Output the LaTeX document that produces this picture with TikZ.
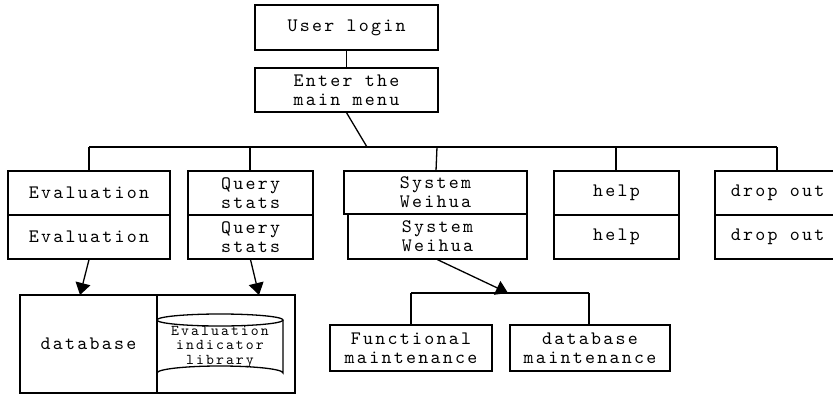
\documentclass[tikz,border=0pt]{standalone}
\usepackage{fontspec}
\usetikzlibrary{arrows.meta}
\newfontfamily\boxfont[LetterSpace=12]{lmmono10-regular.otf}
\newfontfamily\libfont[LetterSpace=14]{lmmono10-regular.otf}
\begin{document}
\begin{tikzpicture}[x=1pt,y=-1pt,line width=1.3pt,
  box/.style={draw,rectangle,inner sep=0pt,align=center,
    font=\boxfont\fontsize{19}{19}\selectfont},
  label/.style={inner sep=0pt,align=center,
    font=\libfont\fontsize{15}{14.5}\selectfont},
  link/.style={line width=1.3pt},
  arr/.style={line width=1.3pt,-{Triangle[length=12pt,width=15pt]}}]
\useasboundingbox (0,0) rectangle (833,394);
\clip (0,0) rectangle (833,394);

% top chain
\node[box,minimum width=183pt,minimum height=45pt] (login) at (346.5,27.5) {User login};
\node[box,minimum width=183pt,minimum height=44pt] (menu) at (346.5,90) {Enter the\\main menu};

% second level, each module drawn as two stacked cells
\node[box,minimum width=162pt,minimum height=44pt] (evalT) at (89,193) {Evaluation};
\node[box,minimum width=162pt,minimum height=44pt] (evalB) at (89,237) {Evaluation};
\node[box,minimum width=125pt,minimum height=44pt] (queryT) at (250.5,193) {Query\\stats};
\node[box,minimum width=125pt,minimum height=44pt] (queryB) at (250.5,237) {Query\\stats};
\node[box,minimum width=183pt,minimum height=43pt] (sysT) at (435.5,192.5) {System\\Weihua};
\node[box,minimum width=179pt,minimum height=45pt] (sysB) at (437.5,236.5) {System\\Weihua};
\node[box,minimum width=125pt,minimum height=44pt] (helpT) at (616.5,193) {help};
\node[box,minimum width=125pt,minimum height=44pt] (helpB) at (616.5,237) {help};
\node[box,minimum width=125pt,minimum height=44pt] (dropT) at (777.5,193) {drop out};
\node[box,minimum width=125pt,minimum height=44pt] (dropB) at (777.5,237) {drop out};

% storage
\node[box,minimum width=137pt,minimum height=98pt] (db) at (88.5,344) {database};
\node[box,minimum width=138pt,minimum height=98pt] (store) at (226,344) {};
\draw (220,320) ellipse [x radius=63, y radius=6];
\draw (157,320) -- (157,373) arc[start angle=180,end angle=360,x radius=63,y radius=7] -- (283,320);
\node[label] (lib) at (220,347) {Evaluation\\indicator\\library};

% maintenance sub-modules
\node[box,minimum width=162pt,minimum height=46pt] (func) at (411,348) {Functional\\maintenance};
\node[box,minimum width=160pt,minimum height=46pt] (dbm) at (590,348) {database\\maintenance};

% connectors
\coordinate (bus) at (367,147);
\coordinate (busL) at (89,147);
\coordinate (busR) at (777,147);
\coordinate (dbin) at (80,295);
\coordinate (libin) at (259,295);
\coordinate (sub) at (508,293);
\coordinate (subL) at (411,293);
\coordinate (subR) at (589,293);

\draw[link] (login) -- (menu);
\draw[link] (menu.south) -- (bus);
\draw[link] (busL) -- (busR);
\draw[link] (busL) -- (evalT.north);
\draw[link] (250,147) -- (queryT.north -| 250,0);
\draw[link] (437,147) -- (436,171);
\draw[link] (616,147) -- (616,171);
\draw[link] (busR) -- (777,171);

\draw[arr] (evalB.south) -- (dbin);
\draw[arr] (queryB.south) -- (libin);
\draw[arr] (sysB.south) -- (sub);

\draw[link] (subL) -- (subR);
\draw[link] (subL) -- (func.north);
\draw[link] (subR) -- (dbm.north -| subR);
\end{tikzpicture}
\end{document}
